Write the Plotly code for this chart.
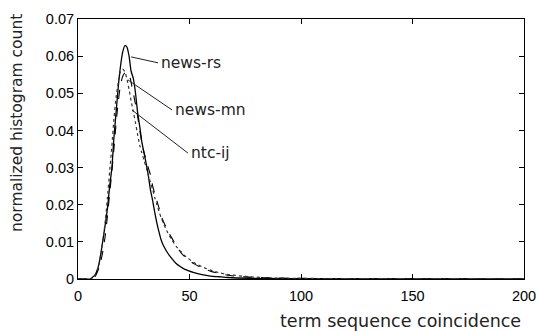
import plotly.graph_objects as go

x_vals = [0, 5.5, 6.5, 7.5, 8.4, 9.4, 10.3, 11.3, 12.3, 13.2, 14.2, 15.2, 16.1, 17.1, 18.1, 19.0,
          20.0, 21.0, 21.9, 22.9, 23.8, 24.8, 25.8, 26.7, 27.7, 28.6, 29.6, 30.6, 31.5, 32.5, 33.5,
          34.4, 35.4, 36.4, 37.3, 38.3, 40.2, 42.1, 44.0, 46.0, 47.9, 51.7, 55.6, 59.4, 63.3, 67.2,
          76.9, 86.5, 96.2, 115.5, 144.5, 200]

news_rs = [0, 0, 0.0005, 0.001, 0.002, 0.004, 0.007, 0.011, 0.015, 0.019, 0.025, 0.030, 0.038, 0.045,
           0.052, 0.057, 0.061, 0.0628, 0.0625, 0.060, 0.056, 0.054, 0.050, 0.045, 0.041, 0.037, 0.034,
           0.031, 0.028, 0.024, 0.021, 0.018, 0.015, 0.0125, 0.0105, 0.009,
           0.007, 0.0055, 0.0042, 0.0033, 0.0026, 0.0018, 0.0012, 0.0008, 0.0006, 0.0004,
           0.0002, 0.00015, 0.0001, 0.00005, 0.00002, 0]
news_mn = [0, 0, 0, 0.0005, 0.0015, 0.003, 0.005, 0.008, 0.012, 0.017, 0.023, 0.029, 0.035, 0.042,
           0.048, 0.052, 0.0545, 0.0555, 0.0557, 0.0552, 0.053, 0.050, 0.047, 0.044, 0.040, 0.037, 0.034,
           0.032, 0.030, 0.028, 0.025, 0.023, 0.021, 0.019, 0.017, 0.0155,
           0.013, 0.011, 0.009, 0.0072, 0.006, 0.0042, 0.003, 0.0021, 0.0015, 0.001,
           0.0005, 0.0003, 0.0002, 0.0001, 0.00005, 0]
ntc_ij = [0, 0, 0, 0.0008, 0.002, 0.004, 0.007, 0.011, 0.016, 0.022, 0.029, 0.036, 0.043, 0.049,
          0.053, 0.0558, 0.0565, 0.0558, 0.054, 0.051, 0.048, 0.045, 0.042, 0.039, 0.036, 0.034, 0.032,
          0.030, 0.028, 0.026, 0.024, 0.022, 0.020, 0.018, 0.0165, 0.015,
          0.0125, 0.0105, 0.0088, 0.0075, 0.0063, 0.0045, 0.0033, 0.0024, 0.0017, 0.0012,
          0.0006, 0.0003, 0.0002, 0.0001, 0.00005, 0]

series_names = ["news-rs", "news-mn", "ntc-ij"]
x_ticks = [0, 50, 100, 150, 200]
y_ticks = [0, 0.01, 0.02, 0.03, 0.04, 0.05, 0.06, 0.07]
y_tick_text = ["0", "0.01", "0.02", "0.03", "0.04", "0.05", "0.06", "0.07"]

# label leader lines: (tip x, tip y, tail x, tail y)
label_lines = [
    (23.8, 0.0598, 35.9, 0.0582),
    (22.4, 0.0536, 42.2, 0.0455),
    (24.2, 0.0455, 49.3, 0.0339),
]

fig = go.Figure()
styles = [("solid", "black", 1.3), ("dash", "black", 1.1), ("dot", "#333333", 1.2)]
for name, ys, (dash, col, w) in zip(series_names, [news_rs, news_mn, ntc_ij], styles):
    fig.add_trace(go.Scatter(x=x_vals, y=ys, mode="lines", name=name,
                             line=dict(color=col, width=w, dash=dash, shape="spline", smoothing=0.6)))

for name, (x0, y0, x1, y1) in zip(series_names, label_lines):
    fig.add_shape(type="line", x0=x0, y0=y0, x1=x1, y1=y1, xref="x", yref="y",
                  line=dict(color="#222222", width=1))
    fig.add_annotation(x=x1 + 0.5, y=y1, xref="x", yref="y", text=name, showarrow=False,
                       xanchor="left", yanchor="middle",
                       font=dict(family="DejaVu Sans", size=15.5, color="#222222"))

fig.add_annotation(x=1.0, xref="paper", xanchor="right", y=-0.1615, yref="paper", yanchor="middle",
                   xshift=-1, text="term sequence coincidence", showarrow=False,
                   font=dict(family="DejaVu Sans", size=17.5, color="#222222"))
fig.add_annotation(x=0, xref="paper", xanchor="center", y=0.6, yref="paper", yanchor="middle",
                   xshift=-61, textangle=-90, text="normalized histogram count", showarrow=False,
                   font=dict(family="DejaVu Sans", size=15.5, color="#222222"))

axis_common = dict(showgrid=False, zeroline=False, showline=True, linecolor="black", linewidth=1,
                   mirror="ticks", ticks="inside", ticklen=5, tickcolor="black",
                   tickfont=dict(family="Liberation Sans, Arial", size=14.5, color="black"))

fig.update_layout(
    width=539, height=331,
    margin=dict(l=78, r=15, t=19, b=52),
    plot_bgcolor="white", paper_bgcolor="white",
    showlegend=False,
    xaxis=dict(range=[0, 200], tickvals=x_ticks, automargin=False, ticklabelstandoff=4,
               **axis_common),
    yaxis=dict(range=[0, 0.07], tickvals=y_ticks, ticktext=y_tick_text, automargin=False,
               **axis_common),
)

fig.write_html(
    "out.html",
    config={"displayModeBar": False, "staticPlot": True},
    post_script=("document.documentElement.style.margin='0';"
                 "document.documentElement.style.overflow='hidden';"
                 "document.body.style.margin='0';"
                 "document.body.style.overflow='hidden';"),
)
